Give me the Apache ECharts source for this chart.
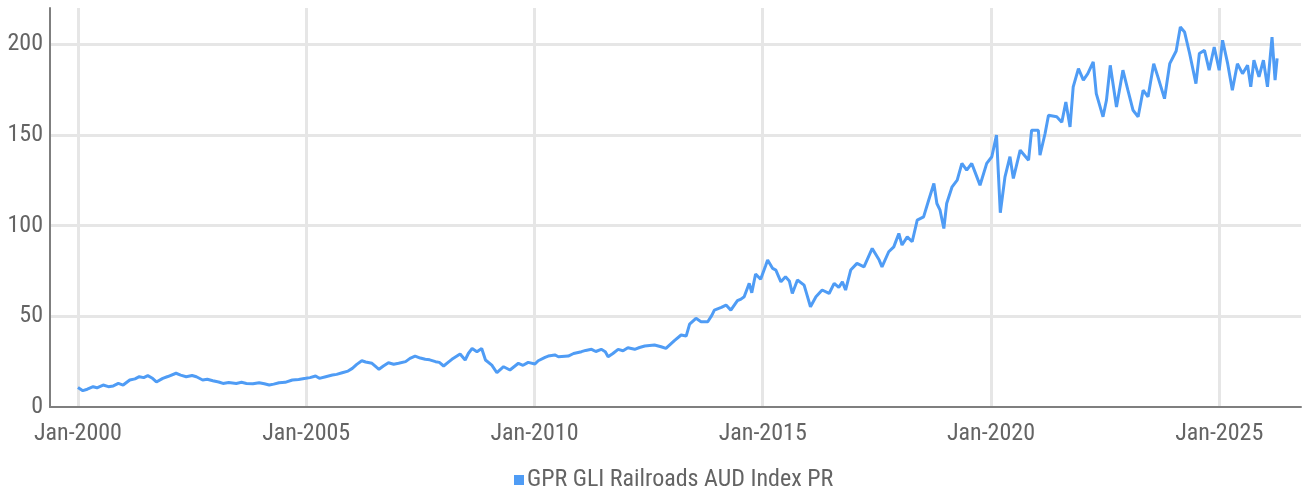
<!DOCTYPE html>
<html>
<head>
<meta charset="utf-8">
<script src="https://cdn.jsdelivr.net/npm/echarts@6/dist/echarts.min.js"></script>
<style>
  html, body { margin: 0; padding: 0; background: #ffffff; }
  #chart { width: 1304px; height: 493px; }
</style>
</head>
<body>
<div id="chart"></div>
<script>
// ---- Data ----
const seriesName = 'GPR GLI Railroads AUD Index PR';

const dates = [
  '2000-01-01','2000-02-10','2000-03-15','2000-05-01','2000-06-01','2000-07-20','2000-09-01','2000-10-10','2000-11-20','2000-12-28',
  '2001-02-20','2001-04-01','2001-05-05','2001-06-10','2001-07-12','2001-08-15','2001-09-20','2001-11-10','2001-12-20',
  '2002-02-25','2002-04-01','2002-05-15','2002-07-01','2002-08-05','2002-09-25','2002-11-01','2002-12-15',
  '2003-02-01','2003-03-05','2003-04-20','2003-06-20','2003-08-01','2003-09-10','2003-11-01','2003-12-20',
  '2004-02-01','2004-03-10','2004-04-15','2004-05-28','2004-07-15','2004-09-12','2004-11-01','2004-12-28',
  '2005-02-01','2005-03-15','2005-04-15','2005-06-05','2005-07-28','2005-09-01','2005-10-15','2005-12-01',
  '2006-01-05','2006-02-10','2006-03-20','2006-04-20','2006-06-10','2006-07-15','2006-08-05','2006-09-10','2006-10-20','2006-12-01',
  '2007-01-10','2007-03-05','2007-04-10','2007-05-20','2007-07-01','2007-08-10','2007-09-15','2007-11-01','2007-12-01',
  '2008-01-05','2008-02-10','2008-03-10','2008-05-15','2008-06-25','2008-07-20','2008-08-20','2008-09-28','2008-11-05','2008-12-05',
  '2009-01-25','2009-03-05','2009-04-28','2009-06-18','2009-08-25','2009-10-01','2009-11-12',
  '2010-01-05','2010-02-01','2010-03-25','2010-04-20','2010-06-12','2010-07-10','2010-09-28','2010-11-10',
  '2011-01-12','2011-02-15','2011-04-01','2011-05-05','2011-06-18','2011-07-20','2011-08-12','2011-09-20','2011-11-01','2011-12-10',
  '2012-01-18','2012-03-12','2012-04-20','2012-06-01','2012-08-18','2012-10-10','2012-11-18',
  '2013-01-25','2013-03-18','2013-04-28','2013-05-25','2013-07-15','2013-08-25','2013-10-18','2013-11-20','2013-12-10',
  '2014-02-05','2014-03-12','2014-04-20','2014-06-12','2014-07-10','2014-08-05','2014-09-15','2014-10-05','2014-11-05','2014-12-15',
  '2015-01-25','2015-02-10','2015-03-20','2015-04-15','2015-05-25','2015-07-01','2015-08-01','2015-08-25','2015-10-05','2015-11-28','2015-12-20',
  '2016-01-18','2016-03-01','2016-04-20','2016-06-15','2016-07-25','2016-09-01','2016-09-30','2016-10-25','2016-12-05',
  '2017-01-25','2017-03-20','2017-05-25','2017-07-20','2017-08-12','2017-10-05','2017-11-15','2017-12-25',
  '2018-01-20','2018-03-01','2018-04-10','2018-05-20','2018-07-10','2018-08-20','2018-10-01','2018-10-25','2018-11-20','2018-12-20',
  '2019-01-12','2019-02-25','2019-04-05','2019-05-12','2019-06-20','2019-07-30','2019-09-10','2019-10-05','2019-11-28',
  '2020-01-08','2020-02-15','2020-03-15','2020-04-22','2020-06-01','2020-06-28','2020-08-22','2020-10-28','2020-11-22',
  '2021-01-15','2021-01-28','2021-03-08','2021-04-05','2021-06-10','2021-07-20','2021-08-22','2021-09-25','2021-10-20','2021-12-01',
  '2022-01-10','2022-02-15','2022-03-28','2022-04-22','2022-06-15','2022-07-12','2022-08-12','2022-10-01','2022-11-22',
  '2023-01-01','2023-02-12','2023-03-22','2023-05-01','2023-06-10','2023-07-25','2023-08-28','2023-10-20','2023-12-01',
  '2024-01-22','2024-02-25','2024-03-28','2024-05-08','2024-06-28','2024-07-25','2024-09-05','2024-10-12','2024-11-22',
  '2025-01-01','2025-01-28','2025-03-08','2025-04-15','2025-05-25','2025-07-05','2025-08-15','2025-09-10','2025-10-05','2025-11-15','2025-12-20',
  '2026-01-22','2026-02-28','2026-03-22','2026-04-08'
];

const values = [
  10.8, 9.0, 9.8, 11.2, 10.6, 12.1, 11.2, 11.6, 13.0, 12.1,
  14.9, 15.5, 16.7, 16.2, 17.3, 16.0, 13.8, 15.8, 16.8,
  18.6, 17.6, 16.7, 17.4, 16.7, 14.9, 15.3, 14.5,
  13.8, 13.0, 13.5, 13.0, 13.6, 13.0, 12.8, 13.4,
  12.8, 12.1, 12.6, 13.4, 13.6, 14.9, 15.2, 15.8,
  16.2, 17.1, 15.8, 16.7, 17.6, 18.0, 18.9, 19.8,
  21.3, 23.5, 25.5, 24.8, 24.1, 22.0, 20.8, 22.6, 24.4, 23.6,
  24.1, 25.0, 26.8, 28.1, 27.0, 26.3, 26.0, 25.0, 24.6,
  22.6, 24.6, 26.3, 29.2, 25.9, 29.5, 32.3, 30.5, 32.3, 25.9,
  23.1, 18.9, 22.2, 20.4, 24.1, 23.0, 24.6,
  23.7, 25.5, 27.4, 28.1, 28.7, 27.7, 28.1, 29.5,
  30.5, 31.2, 31.8, 30.6, 31.8, 30.5, 27.7, 29.5, 31.8, 31.0,
  32.7, 31.8, 32.8, 33.6, 34.2, 33.2, 32.3,
  36.6, 39.7, 39.1, 45.7, 48.9, 47.0, 47.0, 50.5, 53.4,
  54.9, 56.2, 53.4, 58.6, 59.5, 60.8, 68.2, 63.0, 73.3, 70.4,
  78.0, 81.0, 76.4, 75.5, 69.0, 71.8, 69.5, 62.6, 70.0, 67.2, 62.0,
  55.3, 60.8, 64.5, 62.6, 68.2, 66.0, 69.0, 64.5, 75.5,
  79.2, 77.3, 87.4, 81.0, 77.3, 85.6, 88.3, 95.7,
  89.3, 93.8, 91.1, 103.0, 104.8, 114.0, 123.2, 112.2, 108.5, 98.4,
  112.2, 121.4, 125.1, 134.3, 130.6, 134.3, 126.9, 122.3, 134.3,
  138.0, 149.9, 107.1, 126.9, 138.0, 126.0, 141.6, 136.1, 152.6,
  152.6, 138.8, 150.8, 160.9, 160.0, 157.0, 168.2, 154.4, 176.5, 186.6,
  180.2, 183.8, 190.3, 172.8, 160.0, 169.1, 188.4, 165.4, 185.7,
  174.7, 163.6, 160.0, 174.7, 171.0, 189.3, 182.0, 170.0, 189.3,
  196.3, 209.5, 206.8, 194.9, 178.3, 194.9, 196.7, 185.7, 198.5,
  185.7, 202.2, 189.3, 174.7, 189.3, 183.8, 188.4, 176.5, 191.2, 182.0, 191.2,
  176.5, 204.0, 180.2, 192.2
];

const yTickValues = [0, 50, 100, 150, 200];
const xTickYears = [2000, 2005, 2010, 2015, 2020, 2025];

// ---- Helpers ----
function toDecimalYear(s) {
  const p = s.split('-').map(Number);
  return p[0] + (p[1] - 1) / 12 + (p[2] - 1) / 365;
}
const seriesData = dates.map((d, i) => [toDecimalYear(d), values[i]]);

const FONT = "'Liberation Sans Narrow', 'Roboto Condensed', 'DejaVu Sans Condensed', sans-serif";
const TEXT_COLOR = '#646464';

const chart = echarts.init(document.getElementById('chart'), null, { renderer: 'canvas' });
chart.setOption({
  animation: false,
  backgroundColor: '#ffffff',
  grid: { left: 50, right: 0, top: 8, bottom: 86, containLabel: false },
  legend: {
    data: [seriesName],
    left: 509,
    top: 463,
    icon: 'rect',
    itemWidth: 10,
    itemHeight: 10,
    itemGap: 10,
    textStyle: { fontFamily: FONT, fontSize: 24, color: TEXT_COLOR, padding: [0, 0, 0, -2] }
  },
  xAxis: {
    type: 'value',
    min: 1999.388,
    max: 2026.792,
    splitNumber: 5,
    axisLine: { show: true, onZero: false, lineStyle: { color: '#7f7f7f', width: 2 } },
    axisTick: { show: false },
    axisLabel: {
      fontFamily: FONT, fontSize: 24, color: TEXT_COLOR, margin: 15,
      showMinLabel: true, showMaxLabel: true,
      formatter: function (v) {
        const r = Math.round(v);
        if (Math.abs(v - r) < 1e-6 && xTickYears.indexOf(r) >= 0) return 'Jan-' + r;
        return '';
      }
    },
    splitLine: { show: true, showMinLine: false, showMaxLine: false, lineStyle: { color: '#e6e6e6', width: 3 } }
  },
  yAxis: {
    type: 'value',
    min: 0,
    max: 220,
    interval: 50,
    axisLine: { show: true, lineStyle: { color: '#7f7f7f', width: 2 } },
    axisTick: { show: false },
    axisLabel: {
      fontFamily: FONT, fontSize: 24, color: TEXT_COLOR, margin: 7,
      formatter: function (v) { return yTickValues.indexOf(v) >= 0 ? String(v) : ''; }
    },
    splitLine: { show: true, showMinLine: false, showMaxLine: false, lineStyle: { color: '#e6e6e6', width: 3 } }
  },
  series: [{
    name: seriesName,
    type: 'line',
    data: seriesData,
    showSymbol: false,
    symbol: 'none',
    color: '#4f9cf5',
    lineStyle: { color: '#4f9cf5', width: 3 },
    z: 3
  }]
});
</script>
</body>
</html>
